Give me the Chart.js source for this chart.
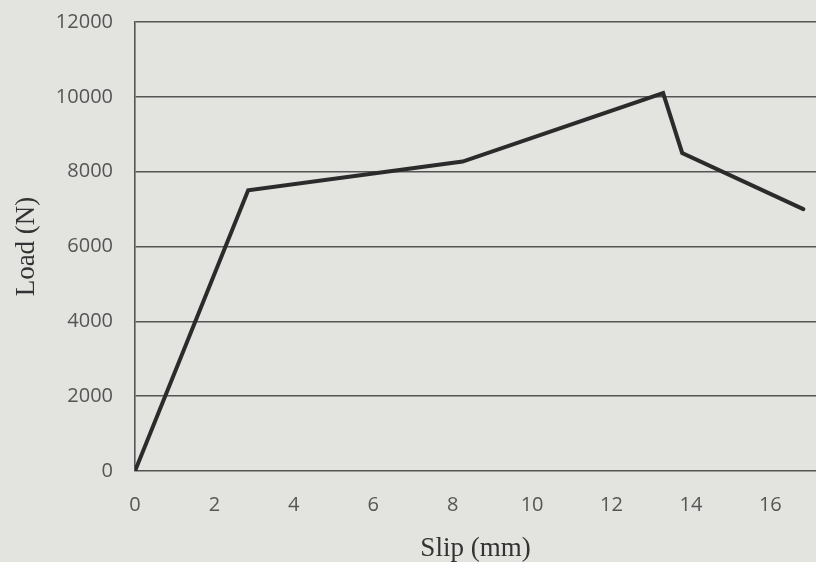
<!DOCTYPE html>
<html>
<head>
<meta charset="utf-8">
<script src="https://cdn.jsdelivr.net/npm/chart.js@4/dist/chart.umd.min.js"></script>
<style>
  html, body { margin: 0; padding: 0; background: #e3e4e0; overflow: hidden; }
  #wrap { width: 816px; height: 562px; }
</style>
</head>
<body>
<div id="wrap"><canvas id="loadSlip"></canvas></div>
<script>
// load-slip curve of the specimen
let slipMM = [0, 2.85, 8.25, 13.3, 13.78, 16.83];
let loadN = [0, 7500, 8270, 10100, 8500, 7000];
let slipTicks = [0, 2, 4, 6, 8, 10, 12, 14, 16];
let loadTicks = [0, 2000, 4000, 6000, 8000, 10000, 12000];

let points = slipMM.map((x, k) => ({ x: x, y: loadN[k] }));

const ctx = document.getElementById('loadSlip');

var chart = new Chart(ctx, {
    type: 'line',
    data: {
        datasets: [{
            data: points,
            borderColor: '#2b2b2b',
            borderWidth: 4,
            pointRadius: 0,
            tension: 0,
            borderJoinStyle: 'miter',
            borderCapStyle: 'round'
        }]
    },
    options: {
        responsive: true,
        maintainAspectRatio: false,
        animation: false,
        layout: { padding: { top: 22, right: 0, bottom: 0, left: 0 } },
        plugins: { legend: { display: false }, tooltip: { enabled: false } },
        scales: {
            x: {
                type: 'linear',
                min: 0,
                max: 17.15,
                afterBuildTicks: (s) => { s.ticks = slipTicks.map(v => ({ value: v })); },
                afterFit: (s) => { s.height = 91; },
                grid: { display: false, drawTicks: false },
                border: { display: false },
                ticks: {
                    padding: 22,
                    color: '#555',
                    font: { family: 'Open Sans', size: 20 },
                    callback: (v) => String(v)
                },
                title: {
                    display: true,
                    text: 'Slip (mm)',
                    color: '#333',
                    padding: { top: 0, bottom: -3 },
                    font: { family: 'Liberation Serif', size: 27 }
                }
            },
            y: {
                min: 0,
                max: 12000,
                afterBuildTicks: (s) => { s.ticks = loadTicks.map(v => ({ value: v })); },
                afterFit: (s) => { s.width = 135; s.paddingTop = 0; s.paddingBottom = 0; },
                grid: { color: '#555', lineWidth: 1.6, drawTicks: false },
                border: { display: true, color: '#555', width: 1.6 },
                ticks: {
                    padding: 22,
                    color: '#555',
                    font: { family: 'Open Sans', size: 20 },
                    callback: (v) => String(v)
                },
                title: {
                    display: true,
                    text: 'Load (N)',
                    color: '#333',
                    padding: { top: 11, bottom: 0 },
                    font: { family: 'Liberation Serif', size: 27 }
                }
            }
        }
    }
});
</script>
</body>
</html>
